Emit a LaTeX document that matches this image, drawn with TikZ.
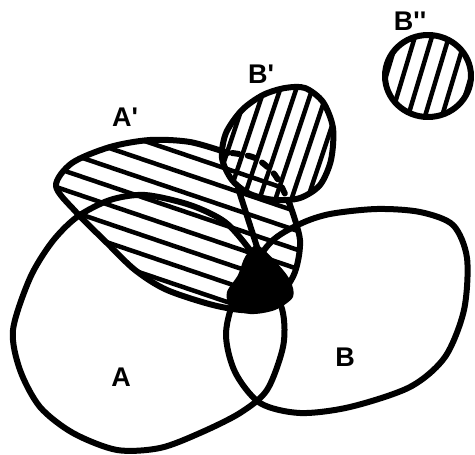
\documentclass[tikz,border=0pt]{standalone}
\usepackage{fontspec}
\setmainfont{Liberation Sans}
\tikzset{
  outline/.style={line width=6pt, line join=round, line cap=round},
  hatchline/.style={line width=4.5pt},
  dashedrim/.style={line width=6pt, line cap=round, dash pattern=on 7pt off 9pt},
  lbl/.style={font=\fontsize{27}{27}\selectfont\bfseries, inner sep=0pt},
}
\def\Apath{plot[smooth cycle] coordinates {(13,330) (20,370) (40,407) (73,433) (117,450) (160,448) (200,433) (240,413) (267,390) (283,347) (283,313) (270,280) (250,250) (225,222) (190,205) (145,195) (110,200) (77,217) (52,242) (30,278)}}
\def\Bpath{plot[smooth cycle] coordinates {(238,290) (226,333) (235,372) (260,403) (300,413) (350,407) (410,387) (445,357) (464,310) (467,258) (453,225) (420,212) (377,209) (330,214) (300,224) (270,243)}}
\def\Bppath{plot[smooth cycle] coordinates {(305,88) (323,102) (333,128) (331,160) (320,185) (300,198) (275,200) (250,194) (232,180) (222,158) (226,133) (242,110) (263,95) (285,88)}}
\def\Apclip{plot[smooth cycle] coordinates {(56,186) (72,163) (110,147) (150,140) (190,142) (228,153) (255,158) (275,175) (290,205) (300,240) (295,272) (280,295) (255,310) (217,306) (167,290) (135,270) (107,243) (76,212)}}
\begin{document}
\begin{tikzpicture}[x=1pt,y=-1pt]
\useasboundingbox (0,0) rectangle (475,455);
% hatching of A'
\begin{scope}
  \clip \Apclip;
  \foreach \c in {92,111,130,149,168,187,206,225}
    \draw[hatchline] (0,\c) -- (475,\c+161);
\end{scope}
% hatching of B'
\begin{scope}
  \clip \Bppath;
  \foreach \c in {262,278,294,310,326,342,358,374,390}
    \draw[hatchline] (\c,0) -- (\c-152,455);
\end{scope}
% hatching of B''
\begin{scope}
  \clip (428,76) ellipse [x radius=43, y radius=41];
  \foreach \c in {392,409,426,443,460,477,494}
    \draw[hatchline] (\c,0) -- (\c-137,455);
\end{scope}
% outlines
\draw[outline] \Apath;
\draw[outline] \Bpath;
\draw[outline] \Bppath;
\draw[outline] (428,76) ellipse [x radius=43, y radius=41];
\draw[outline] plot[smooth] coordinates {(290,205) (300,240) (295,272) (280,295) (255,310) (217,306) (167,290) (135,270) (107,243) (76,212) (56,186) (72,163) (110,147) (150,140) (190,142) (228,153)};
\draw[dashedrim] plot[smooth] coordinates {(232,153) (255,158) (275,175) (290,205)};
\draw[outline] (238,188) -- (258,250);
% black blob
\fill plot[smooth cycle] coordinates {(257,245) (245,257) (238,275) (227,292) (230,306) (250,314) (275,310) (293,297) (290,280) (276,262)};
% labels
\node[lbl] (lAp) at (125,117) {A\textquotesingle};
\node[lbl] (lBp) at (261,74) {B\textquotesingle};
\node[lbl] (lBpp) at (410,21) {B\textquotesingle\textquotesingle};
\node[lbl] (lA) at (121,377) {A};
\node[lbl] (lB) at (345,357) {B};
\end{tikzpicture}
\end{document}
